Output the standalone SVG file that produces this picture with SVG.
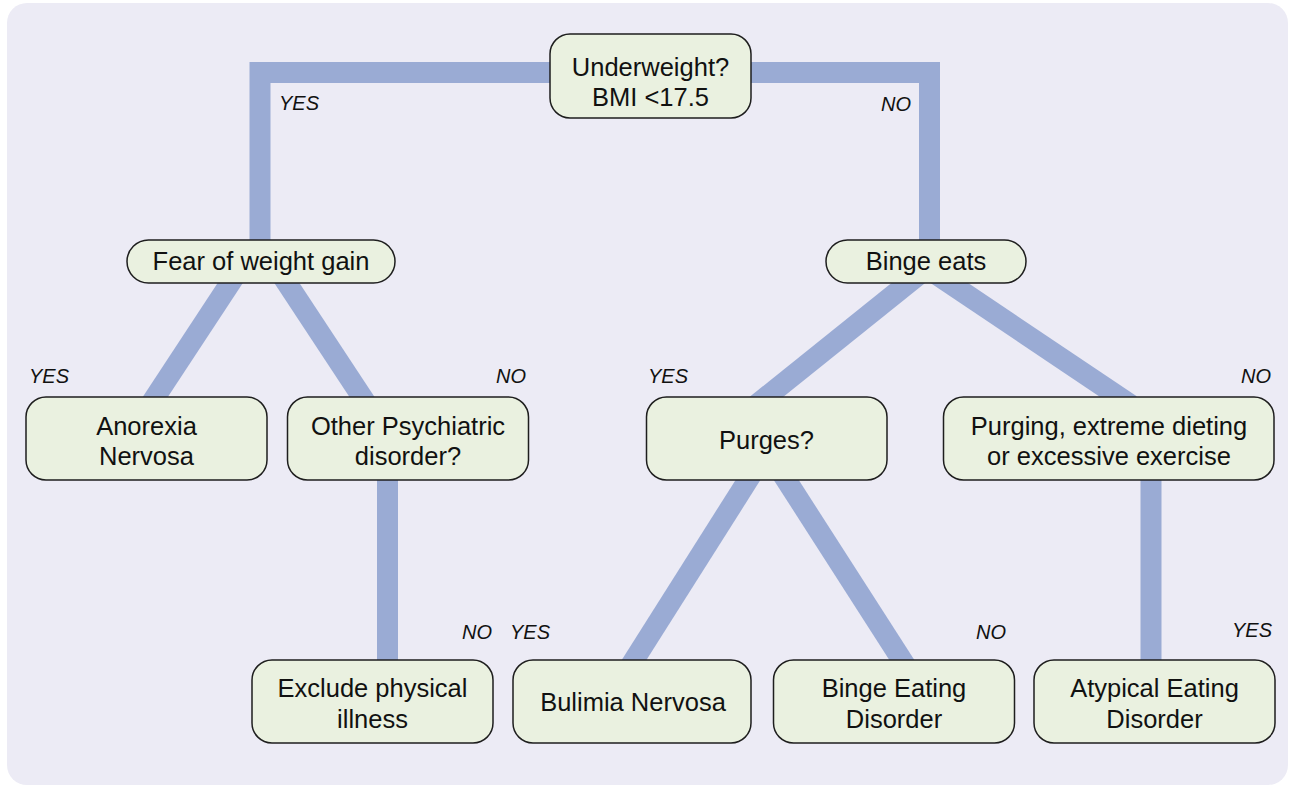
<svg xmlns="http://www.w3.org/2000/svg" width="1291" height="787" viewBox="0 0 1291 787">
<style>
.bg{fill:#ecebf5}
.c{fill:none;stroke:#9aabd4;stroke-width:21;stroke-linejoin:miter;stroke-linecap:butt}
.n{fill:#eaf1e0;stroke:#1e1e1e;stroke-width:1.5}
.t{font-family:"Liberation Sans",Arial,Helvetica,sans-serif;font-size:25.5px;fill:#111;text-anchor:middle}
.l{font-family:"Liberation Sans",Arial,Helvetica,sans-serif;font-size:20px;font-style:italic;fill:#111}
</style>
<rect width="1291" height="787" fill="#ffffff"/>
<rect class="bg" x="7" y="3" width="1281" height="782" rx="20"/>
<g id="connectors">
<path class="c" d="M260,250 V72.5 H929.5 V250"/>
<path class="c" d="M251.9,250 L150,405"/>
<path class="c" d="M265.1,250 L367.3,405"/>
<path class="c" d="M927,268 L756.3,405"/>
<path class="c" d="M927,268 L1130.9,405"/>
<path class="c" d="M767,450 L629,668"/>
<path class="c" d="M767,450 L907,668"/>
<path class="c" d="M387.5,470 V668"/>
<path class="c" d="M1151,470 V668"/>
</g>
<g id="labels">
<text class="l" x="279" y="110">YES</text>
<text class="l" x="881" y="111">NO</text>
<text class="l" x="29" y="383">YES</text>
<text class="l" x="496" y="383">NO</text>
<text class="l" x="648" y="383">YES</text>
<text class="l" x="1241" y="383">NO</text>
<text class="l" x="462" y="639">NO</text>
<text class="l" x="510" y="639">YES</text>
<text class="l" x="976" y="639">NO</text>
<text class="l" x="1232" y="637">YES</text>
</g>
<g id="underweight">
<rect class="n" x="550" y="34" width="201" height="84" rx="20"/>
<text class="t" x="650.5" y="76">Underweight?</text>
<text class="t" x="650.5" y="106">BMI &lt;17.5</text>
</g>
<g id="fear">
<rect class="n" x="127" y="240" width="268" height="43" rx="21.5"/>
<text class="t" x="261" y="270">Fear of weight gain</text>
</g>
<g id="binge-eats">
<rect class="n" x="826" y="240" width="200" height="43" rx="21.5"/>
<text class="t" x="926" y="270">Binge eats</text>
</g>
<g id="anorexia">
<rect class="n" x="26" y="397" width="241" height="83" rx="20"/>
<text class="t" x="146.5" y="435">Anorexia</text>
<text class="t" x="146.5" y="465">Nervosa</text>
</g>
<g id="other-psychiatric">
<rect class="n" x="287.5" y="397" width="241" height="83" rx="20"/>
<text class="t" x="408" y="435">Other Psychiatric</text>
<text class="t" x="408" y="465">disorder?</text>
</g>
<g id="purges">
<rect class="n" x="646.5" y="397" width="240.5" height="83" rx="20"/>
<text class="t" x="766.5" y="449">Purges?</text>
</g>
<g id="purging">
<rect class="n" x="943.5" y="397" width="330.5" height="83" rx="20"/>
<text class="t" x="1109" y="435">Purging, extreme dieting</text>
<text class="t" x="1109" y="465">or excessive exercise</text>
</g>
<g id="exclude">
<rect class="n" x="252" y="660" width="241" height="83" rx="20"/>
<text class="t" x="372.5" y="697">Exclude physical</text>
<text class="t" x="372.5" y="728">illness</text>
</g>
<g id="bulimia">
<rect class="n" x="513" y="660" width="238" height="83" rx="20"/>
<text class="t" x="633" y="711">Bulimia Nervosa</text>
</g>
<g id="binge-eating">
<rect class="n" x="773.5" y="660" width="241" height="83" rx="20"/>
<text class="t" x="894" y="697">Binge Eating</text>
<text class="t" x="894" y="728">Disorder</text>
</g>
<g id="atypical">
<rect class="n" x="1034" y="660" width="241" height="83" rx="20"/>
<text class="t" x="1154.5" y="697">Atypical Eating</text>
<text class="t" x="1154.5" y="728">Disorder</text>
</g>
</svg>
